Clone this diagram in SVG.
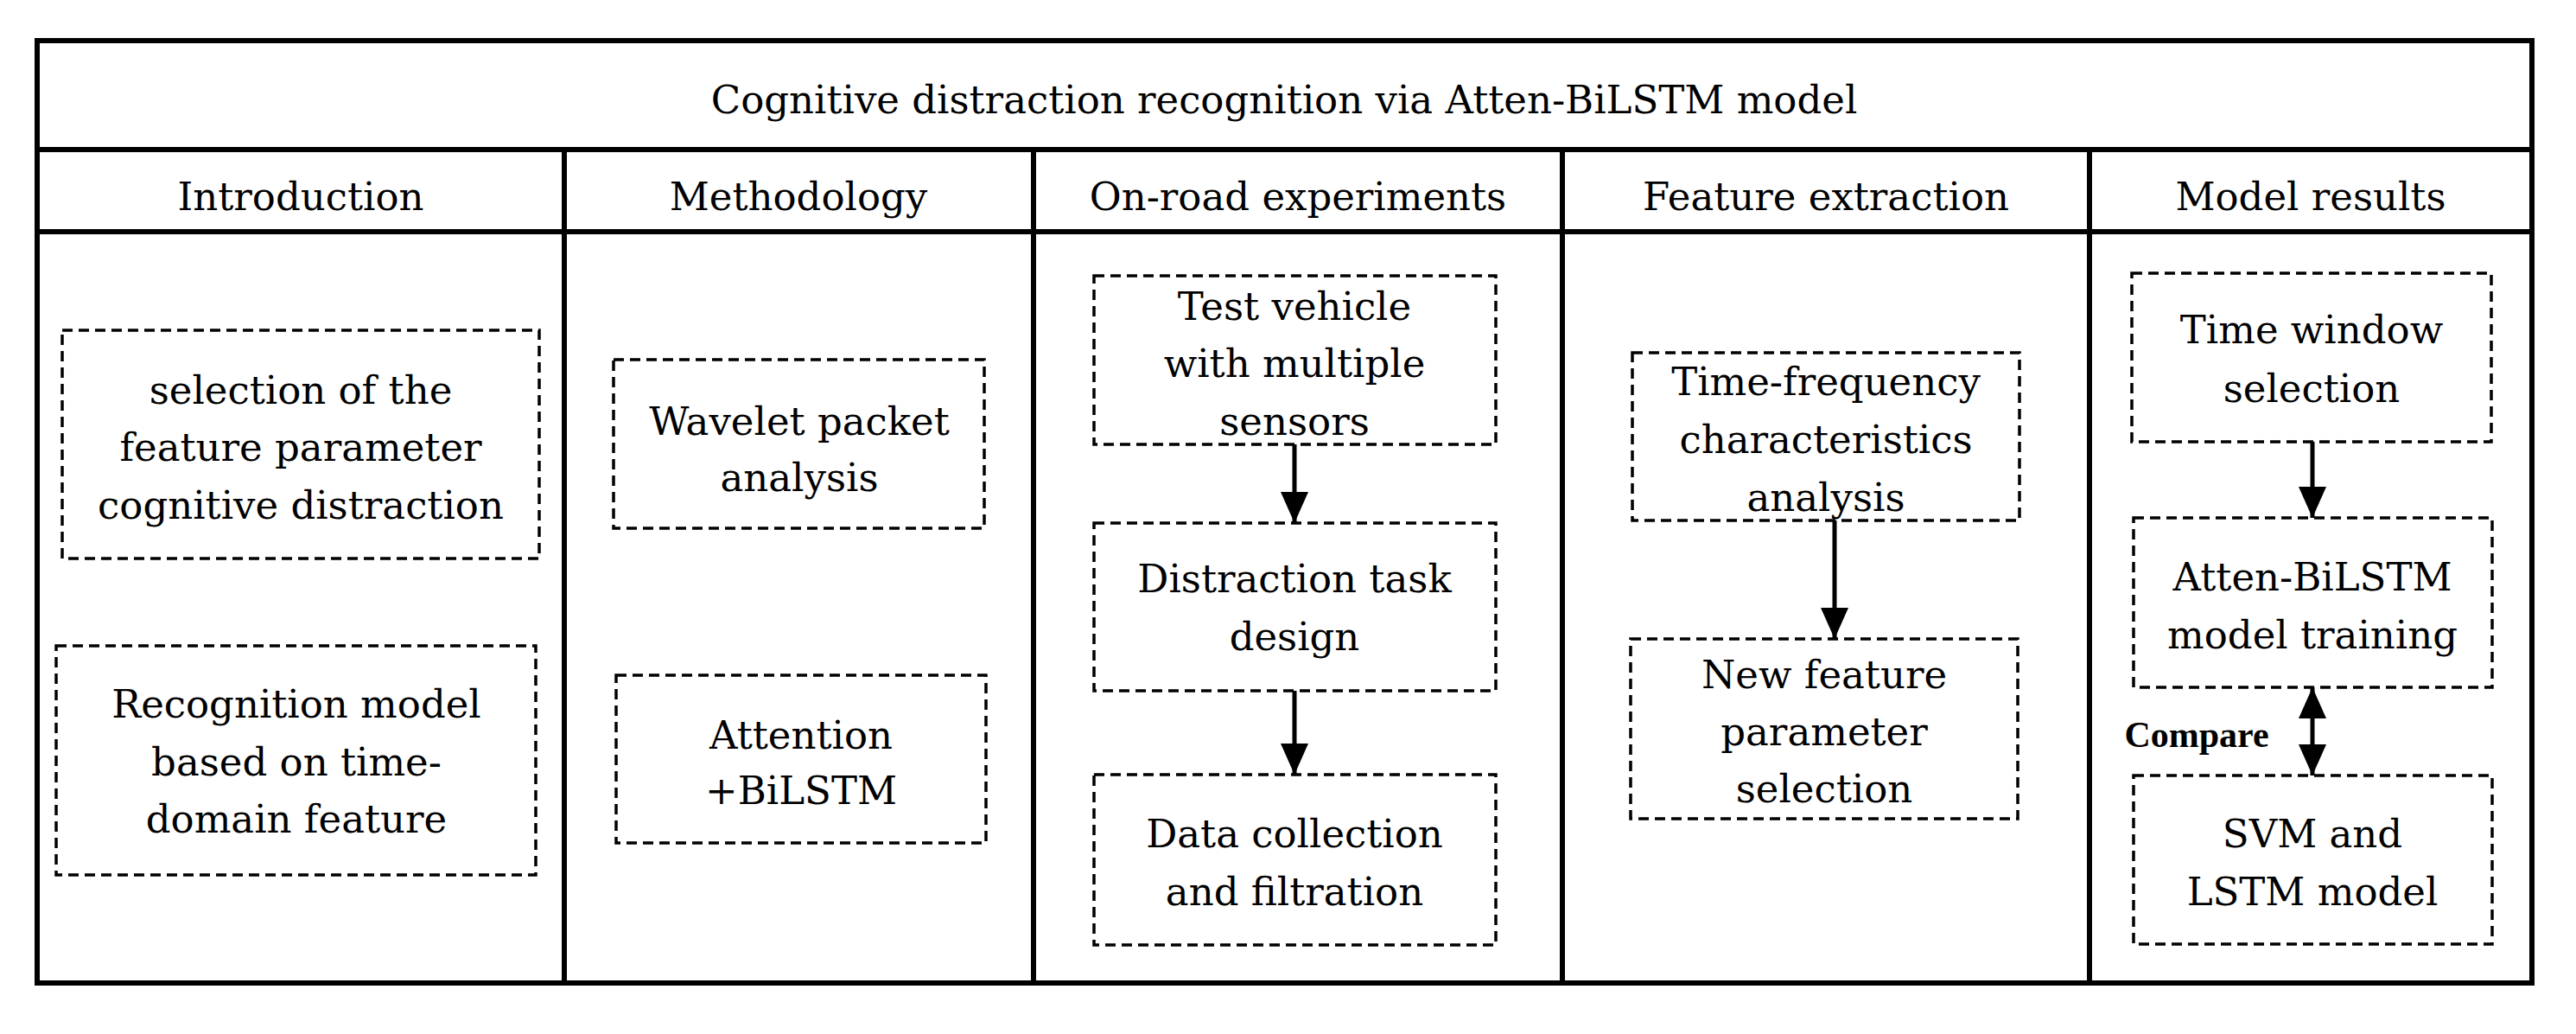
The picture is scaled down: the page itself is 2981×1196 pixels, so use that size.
<svg xmlns="http://www.w3.org/2000/svg" width="2981" height="1196" viewBox="0 0 2981 1196">
<style>
text{font-family:"DejaVu Serif","Liberation Serif",serif;font-size:45px;text-anchor:middle;fill:#000}
.f{fill:none;stroke:#000;stroke-width:6}
.b{fill:none;stroke:#000;stroke-width:3.5;stroke-dasharray:12 7}
.c{stroke:#000;stroke-width:5;fill:none}
</style>
<defs>
<marker id="a" viewBox="0 0 36 32" refX="36" refY="16" markerWidth="36" markerHeight="32" markerUnits="userSpaceOnUse" orient="auto-start-reverse">
<path d="M0,0L36,16L0,32z" fill="#000"/>
</marker>
</defs>
<g id="frame">
<rect class="f" x="43" y="47" width="2887" height="1090"/>
<line class="f" x1="43" y1="173" x2="2930" y2="173"/>
<line class="f" x1="43" y1="268" x2="2930" y2="268"/>
<line class="f" x1="653" y1="173" x2="653" y2="1137"/>
<line class="f" x1="1196" y1="173" x2="1196" y2="1137"/>
<line class="f" x1="1808" y1="173" x2="1808" y2="1137"/>
<line class="f" x1="2418" y1="173" x2="2418" y2="1137"/>
<text x="1486" y="131">Cognitive distraction recognition via Atten-BiLSTM model</text>
<text x="348" y="243">Introduction</text>
<text x="924" y="243">Methodology</text>
<text x="1502" y="243">On-road experiments</text>
<text x="2113" y="243">Feature extraction</text>
<text x="2674" y="243">Model results</text>
</g>
<g id="intro1"><rect class="b" x="72" y="382" width="552" height="264"/>
<text x="348" y="467">selection of the</text><text x="348" y="533">feature parameter</text><text x="348" y="600">cognitive distraction</text></g>
<g id="intro2"><rect class="b" x="65" y="747" width="555" height="265"/>
<text x="343" y="830">Recognition model</text><text x="343" y="897">based on time-</text><text x="343" y="963">domain feature</text></g>
<g id="meth1"><rect class="b" x="710" y="416" width="429" height="195"/>
<text x="925" y="503">Wavelet packet</text><text x="925" y="568">analysis</text></g>
<g id="meth2"><rect class="b" x="713" y="781" width="428" height="194"/>
<text x="927" y="866">Attention</text><text x="927" y="930">+BiLSTM</text></g>
<g id="road1"><rect class="b" x="1266" y="319" width="465" height="195"/>
<text x="1498" y="370">Test vehicle</text><text x="1498" y="436">with multiple</text><text x="1498" y="503">sensors</text></g>
<g id="road2"><rect class="b" x="1266" y="605" width="465" height="194"/>
<text x="1498" y="685">Distraction task</text><text x="1498" y="752">design</text></g>
<g id="road3"><rect class="b" x="1266" y="896" width="465" height="197"/>
<text x="1498" y="980">Data collection</text><text x="1498" y="1047">and filtration</text></g>
<g id="feat1"><rect class="b" x="1889" y="408" width="448" height="194"/>
<text x="2113" y="457">Time-frequency</text><text x="2113" y="524">characteristics</text><text x="2113" y="591">analysis</text></g>
<g id="feat2"><rect class="b" x="1887" y="739" width="448" height="208"/>
<text x="2111" y="796">New feature</text><text x="2111" y="862">parameter</text><text x="2111" y="928">selection</text></g>
<g id="model1"><rect class="b" x="2467" y="316" width="416" height="195"/>
<text x="2675" y="397">Time window</text><text x="2675" y="465">selection</text></g>
<g id="model2"><rect class="b" x="2469" y="599" width="415" height="196"/>
<text x="2676" y="683">Atten-BiLSTM</text><text x="2676" y="750">model training</text></g>
<g id="model3"><rect class="b" x="2469" y="897" width="415" height="195"/>
<text x="2676" y="980">SVM and</text><text x="2676" y="1047">LSTM model</text></g>
<g id="connectors">
<line class="c" x1="1498" y1="514" x2="1498" y2="605" marker-end="url(#a)"/>
<line class="c" x1="1498" y1="799" x2="1498" y2="896" marker-end="url(#a)"/>
<line class="c" x1="2123" y1="602" x2="2123" y2="739" marker-end="url(#a)"/>
<line class="c" x1="2676" y1="511" x2="2676" y2="599" marker-end="url(#a)"/>
<line class="c" x1="2676" y1="795" x2="2676" y2="897" marker-start="url(#a)" marker-end="url(#a)"/>
<text x="2542" y="864" style="font-weight:bold;font-size:42px;font-family:'Liberation Serif',serif">Compare</text>
</g>
</svg>
